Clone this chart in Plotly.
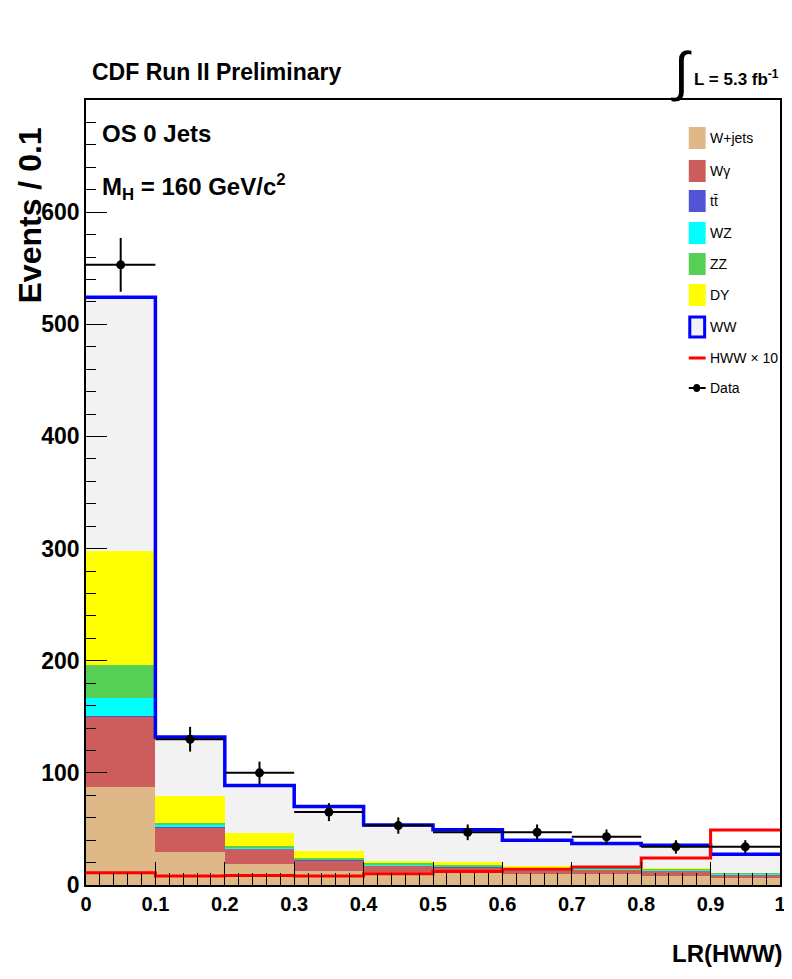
import plotly.graph_objects as go

# ---------------- data ----------------
bin_edges = [0.0, 0.1, 0.2, 0.3, 0.4, 0.5, 0.6, 0.7, 0.8, 0.9, 1.0]
wjets = [87, 29, 19, 12.5, 11.5, 10.5, 9.8, 10, 8, 6.5]
wgamma = [63, 22.5, 13.5, 9.5, 6, 5.5, 3.2, 4, 5, 2.5]
ttbar = [1, 0.5, 0.3, 0.3, 0.3, 0.3, 0.2, 0.2, 0.2, 0.2]
wz = [16, 1.5, 1, 0.7, 0.6, 0.5, 0.4, 0.4, 0.5, 0.8]
zz = [29, 1.5, 1, 1, 0.8, 0.8, 0.8, 0.6, 0.8, 0.8]
dy = [102, 24, 12, 6, 1.8, 2.7, 2.5, 1.3, 1, 0.3]
ww = [226, 53, 42, 40, 32.5, 29, 23, 20.5, 20, 16.3]
hww_x10 = [11, 8, 8.5, 8, 10, 12, 14, 16, 24, 49]
data = [553, 130, 100, 65, 53, 47, 47, 43, 34, 34]
data_err = [24, 11, 10, 8, 7.3, 7, 7, 6.5, 6, 6]

x_ticks = [0, 0.1, 0.2, 0.3, 0.4, 0.5, 0.6, 0.7, 0.8, 0.9, 1]
x_ticklabels = ["0", "0.1", "0.2", "0.3", "0.4", "0.5", "0.6", "0.7", "0.8", "0.9", "1"]
y_ticks = [0, 100, 200, 300, 400, 500, 600]

# ---------------- derived ----------------
centers = [(bin_edges[i] + bin_edges[i + 1]) / 2 for i in range(len(bin_edges) - 1)]
widths = [bin_edges[i + 1] - bin_edges[i] for i in range(len(bin_edges) - 1)]
components = [wjets, wgamma, ttbar, wz, zz, dy, ww]
totals = [sum(c[i] for c in components) for i in range(len(centers))]

names = ["W+jets", "W\u03b3", "tt\u0304", "WZ", "ZZ", "DY", "WW"]
colors = ["#deb887", "#cd5c5c", "#5353d6", "#00ffff", "#55d055", "#ffff00", "#f2f2f2"]

SANS = "Liberation Sans, Arial, sans-serif"

fig = go.Figure()
for vals, name, col in zip(components, names, colors):
    fig.add_trace(go.Bar(x=centers, y=vals, width=widths, name=name,
                         marker=dict(color=col, line=dict(width=0)),
                         showlegend=False, hoverinfo="skip"))

# WW outline (total stack) as step
fig.add_trace(go.Scatter(x=bin_edges, y=totals + [totals[-1]], mode="lines",
                         line=dict(color="#0000ff", width=3.5, shape="hv"),
                         showlegend=False, hoverinfo="skip"))
# HWW x10 step
fig.add_trace(go.Scatter(x=bin_edges, y=hww_x10 + [hww_x10[-1]], mode="lines",
                         line=dict(color="#ff0000", width=3, shape="hv"),
                         showlegend=False, hoverinfo="skip"))
# data
fig.add_trace(go.Scatter(x=centers, y=data, mode="markers",
                         marker=dict(color="black", size=9),
                         error_y=dict(type="data", array=data_err, thickness=2, width=0, color="black"),
                         error_x=dict(type="data", array=[w / 2 for w in widths], thickness=2, width=0, color="black"),
                         showlegend=False))

# ---------------- layout ----------------
# page pixel positions of the frame (body has an 8px margin in the page)
OFF = 8
L, R, T, B = 86, 786, 100, 885
W, H = R - L, B - T
PAGE_W, PAGE_H = 792, 979


def fx(p):
    return (p - L) / W


def fy(p):
    return (B - p) / H


fig.update_layout(
    width=PAGE_W - OFF, height=PAGE_H - OFF,
    margin=dict(l=L - OFF, r=PAGE_W - R, t=T - OFF, b=PAGE_H - B),
    paper_bgcolor="white", plot_bgcolor="white",
    barmode="stack", bargap=0,
    font=dict(family=SANS, color="black"),
)
fig.update_xaxes(range=[0, 1], tickvals=x_ticks, ticktext=["<b>%s</b>" % t for t in x_ticklabels],
                 ticks="inside", ticklen=23, tickwidth=1, tickcolor="black",
                 minor=dict(ticks="inside", ticklen=12, dtick=0.02, tickcolor="black", tickwidth=1),
                 showline=True, linecolor="black", linewidth=1.5, mirror=True,
                 showgrid=False, zeroline=False,
                 tickfont=dict(family=SANS, size=20, color="black"))
fig.update_yaxes(range=[0, 700], tickvals=y_ticks, ticktext=["<b>%d</b>" % t for t in y_ticks],
                 ticks="inside", ticklen=21, tickwidth=1, tickcolor="black",
                 minor=dict(ticks="inside", ticklen=10, dtick=20, tickcolor="black", tickwidth=1),
                 showline=True, linecolor="black", linewidth=1.5, mirror=True,
                 showgrid=False, zeroline=False,
                 tickfont=dict(family=SANS, size=23, color="black"))

ann = []
ann.append(dict(text="<b>CDF Run II Preliminary</b>", x=fx(90), y=fy(72), xanchor="left", yanchor="middle",
                font=dict(family=SANS, size=23)))
ann.append(dict(text="\u222b", x=fx(687), y=fy(71), xanchor="center", yanchor="middle",
                font=dict(family=SANS, size=54)))
ann.append(dict(text="<b>L = 5.3 fb<sup>-1</sup></b>", x=fx(697), y=fy(78), xanchor="left", yanchor="middle",
                font=dict(family=SANS, size=17)))
ann.append(dict(text="<b>OS 0 Jets</b>", x=fx(100), y=fy(133), xanchor="left", yanchor="middle",
                font=dict(family=SANS, size=24)))
ann.append(dict(text="<b>M<sub>H</sub> = 160 GeV/c<sup>2</sup></b>", x=fx(100), y=fy(187), xanchor="left",
                yanchor="middle", font=dict(family=SANS, size=24)))
ann.append(dict(text="<b>Events / 0.1</b>", x=fx(30), y=fy(215), xanchor="center", yanchor="middle",
                textangle=-90, font=dict(family=SANS, size=32)))
ann.append(dict(text="<b>LR(HWW)</b>", x=fx(791), y=fy(953), xanchor="right", yanchor="middle",
                font=dict(family=SANS, size=24)))

# manual legend
shapes = []
leg_rows = [138, 171, 201, 233, 264, 295, 327, 358, 388]
leg_labels = names + ["HWW \u00d7 10", "Data"]
for i, (yc, lab) in enumerate(zip(leg_rows, leg_labels)):
    if i < 6:
        shapes.append(dict(type="rect", xref="paper", yref="paper", x0=fx(694), x1=fx(711),
                           y0=fy(yc + 11), y1=fy(yc - 11), fillcolor=colors[i], line=dict(width=0)))
    elif i == 6:
        shapes.append(dict(type="rect", xref="paper", yref="paper", x0=fx(695), x1=fx(710),
                           y0=fy(yc + 10), y1=fy(yc - 10), fillcolor=colors[6],
                           line=dict(width=3, color="#0000ff")))
    elif i == 7:
        shapes.append(dict(type="line", xref="paper", yref="paper", x0=fx(694), x1=fx(711),
                           y0=fy(yc), y1=fy(yc), line=dict(width=3, color="#ff0000")))
    else:
        shapes.append(dict(type="line", xref="paper", yref="paper", x0=fx(694), x1=fx(711),
                           y0=fy(yc), y1=fy(yc), line=dict(width=2, color="black")))
        shapes.append(dict(type="circle", xref="paper", yref="paper", x0=fx(698.5), x1=fx(705.5),
                           y0=fy(yc + 4), y1=fy(yc - 4), fillcolor="black", line=dict(width=0)))
    ann.append(dict(text=lab, x=fx(713), y=fy(yc), xanchor="left", yanchor="middle",
                    font=dict(family=SANS, size=14)))

for a in ann:
    a.update(xref="paper", yref="paper", showarrow=False)
fig.update_layout(annotations=ann, shapes=shapes)

fig.write_html("out.html")
